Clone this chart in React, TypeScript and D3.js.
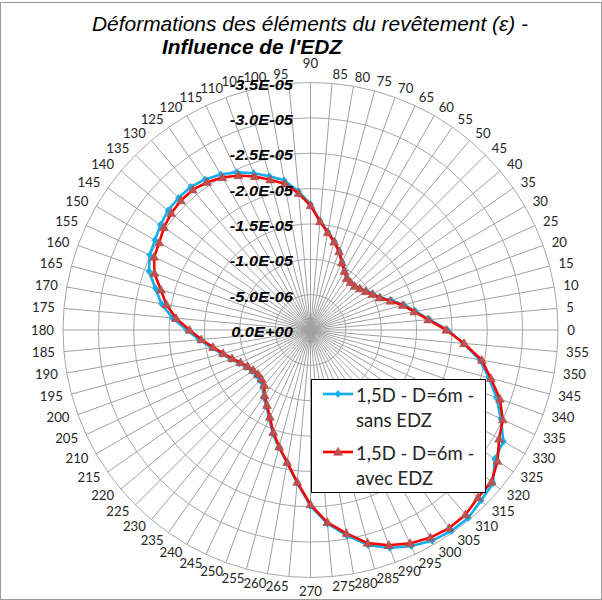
import React from 'react';
import * as d3 from 'd3';

// Categories (angle in degrees, as labelled on the chart)
const categories = [
  '0','5','10','15','20','25','30','35','40','45','50','55','60','65','70','75','80','85',
  '90','95','100','105','110','115','120','125','130','135','140','145','150','155','160','165','170','175',
  '180','185','190','195','200','205','210','215','220','225','230','235','240','245','250','255','260','265',
  '270','275','280','285','290','295','300','305','310','315','320','325','330','335','340','345','350','355'
];

// Series: 1,5D - D=6m - sans EDZ (strain, x1e-5, negative)
const sansEDZ = [
  -1.94, -1.69, -1.51, -1.37, -1.22, -1.09, -1.02, -0.96, -0.91, -0.88, -0.88, -0.90, -0.97, -1.06, -1.19, -1.30, -1.41, -1.55,
  -1.78, -1.97, -2.15, -2.25, -2.36, -2.46, -2.54, -2.60, -2.64, -2.64, -2.63, -2.59, -2.54, -2.51, -2.43, -2.27, -2.14, -1.96,
  -1.75, -1.58, -1.42, -1.30, -1.20, -1.11, -1.05, -1.01, -1.00, -1.01, -1.05, -1.16, -1.25, -1.38, -1.56, -1.72, -1.91, -2.17,
  -2.49, -2.75, -2.95, -3.15, -3.28, -3.37, -3.44, -3.47, -3.47, -3.41, -3.37, -3.18, -3.15, -2.97, -2.80, -2.61, -2.43, -2.17
].map(v => v * 1e-5);

// Series: 1,5D - D=6m - avec EDZ
const avecEDZ = [
  -1.92, -1.67, -1.49, -1.35, -1.20, -1.08, -1.01, -0.95, -0.91, -0.88, -0.88, -0.89, -0.96, -1.05, -1.18, -1.29, -1.40, -1.54,
  -1.76, -1.94, -2.10, -2.20, -2.31, -2.41, -2.49, -2.55, -2.59, -2.59, -2.57, -2.53, -2.47, -2.44, -2.35, -2.19, -2.07, -1.91,
  -1.71, -1.55, -1.40, -1.28, -1.18, -1.09, -1.03, -0.99, -0.97, -0.98, -1.02, -1.13, -1.23, -1.36, -1.54, -1.71, -1.90, -2.16,
  -2.47, -2.73, -2.92, -3.12, -3.24, -3.33, -3.39, -3.42, -3.41, -3.35, -3.34, -3.23, -3.08, -3.00, -2.85, -2.64, -2.46, -2.18
].map(v => v * 1e-5);

const radialTicks = [0, -5e-6, -1e-5, -1.5e-5, -2e-5, -2.5e-5, -3e-5, -3.5e-5];
const tickLabels = ['0.0E+00', '-5.0E-06', '-1.0E-05', '-1.5E-05', '-2.0E-05', '-2.5E-05', '-3.0E-05', '-3.5E-05'];

const seriesNames = ['1,5D - D=6m -', 'sans EDZ', '1,5D - D=6m -', 'avec EDZ'];
const titleLines = ['Déformations des éléments du revêtement (ε) -', "Influence de l'EDZ"];

const BLUE = '#12AEEA';
const RED = '#FF0000';
const TRI = '#C0504D';

export default function App() {
  const W = 602, H = 600;
  const cx = 310.5, cy = 330, R = 247.5;
  const rScale = d3.scaleLinear().domain([0, -3.5e-5]).range([0, R]);
  const aScale = d3.scaleLinear().domain([0, 360]).range([0, 2 * Math.PI]);
  const pt = (deg: number, v: number): [number, number] => {
    const a = aScale(deg);
    const r = rScale(v);
    return [cx + r * Math.cos(a), cy - r * Math.sin(a)];
  };
  const closed = d3.line<[number, number]>().curve(d3.curveLinearClosed);

  const bluePts = categories.map((c, i) => pt(+c, sansEDZ[i]));
  const redPts = categories.map((c, i) => pt(+c, avecEDZ[i]));

  const diamond = 'M0,-3.6L3,0L0,3.6L-3,0Z';
  const triangle = 'M0,-4.6L4.4,3.2L-4.4,3.2Z';

  const labelFont = "Lato, 'Noto Sans', sans-serif";
  const arial = "'Liberation Sans', Arial, sans-serif";

  return (
    <div style={{ position: 'fixed', left: 0, top: 0, width: W, height: H, background: '#fff' }}>
      <svg width={W} height={H} style={{ display: 'block' }}>
        <rect x={0.5} y={2.5} width={W - 1} height={H - 3} fill="#fff" stroke="#9a9a9a" strokeWidth={1} />
        {/* title */}
        <text x={310} y={31} textAnchor="middle" fontFamily={arial} fontStyle="italic" fontSize={19.5}
          textLength={436} lengthAdjust="spacingAndGlyphs" fill="#000">{titleLines[0]}</text>
        <text x={252} y={54} textAnchor="middle" fontFamily={arial} fontStyle="italic" fontWeight="bold" fontSize={19.5}
          textLength={180} lengthAdjust="spacingAndGlyphs" fill="#000">{titleLines[1]}</text>

        {/* grid polygons */}
        {radialTicks.slice(1).map((t, i) => (
          <path key={'g' + i} d={closed(categories.map(c => pt(+c, t))) || ''} fill="none" stroke="#a8a8a8" strokeWidth={1} />
        ))}
        {/* spokes */}
        {categories.map((c, i) => {
          const [x, y] = pt(+c, radialTicks[radialTicks.length - 1]);
          return <line key={'s' + i} x1={cx} y1={cy} x2={x} y2={y} stroke="#a0a0a0" strokeWidth={1} />;
        })}

        {/* category labels */}
        {categories.map((c, i) => {
          const a = aScale(+c);
          const cs = Math.cos(a), sn = Math.sin(a);
          const w = c.length * 7.3;
          const g = 9.5;
          let dx = (R + g) * cs + Math.sign(cs) * (w / 2) * Math.min(1, Math.abs(cs) * 12);
          let dy = -(R + g) * sn;
          if (Math.abs(cs) < 0.01) dy += sn > 0 ? -10 : 4;
          return (
            <text key={'c' + i} x={cx + dx} y={cy + dy + 4.6} textAnchor="middle" fontFamily={labelFont}
              fontSize={13.2} fill="#262626">{c}</text>
          );
        })}

        {/* series sans EDZ */}
        <path d={closed(bluePts) || ''} fill="none" stroke={BLUE} strokeWidth={2.6} strokeLinejoin="round" />
        {bluePts.map((p, i) => (
          <path key={'b' + i} d={diamond} transform={`translate(${p[0]},${p[1]})`} fill={BLUE} stroke={BLUE} strokeWidth={0.6} />
        ))}
        {/* series avec EDZ */}
        <path d={closed(redPts) || ''} fill="none" stroke={RED} strokeWidth={2.6} strokeLinejoin="round" />
        {redPts.map((p, i) => (
          <path key={'r' + i} d={triangle} transform={`translate(${p[0]},${p[1]})`} fill={TRI} stroke="#B04543" strokeWidth={0.6} />
        ))}

        {/* radial axis labels */}
        {radialTicks.map((t, i) => {
          const y = cy - rScale(t);
          return (
            <text key={'t' + i} transform={`translate(293,${y + 7}) scale(1.1,1)`} textAnchor="end" fontFamily={arial}
              fontStyle="italic" fontWeight="bold" fontSize={15} fill="#000">{tickLabels[i]}</text>
          );
        })}

        {/* legend */}
        <rect x={311.5} y={379.5} width={174} height={113} fill="#fff" stroke="#000" strokeWidth={1} />
        <line x1={323} x2={353} y1={394} y2={394} stroke={BLUE} strokeWidth={2.6} />
        <path d={diamond} transform="translate(338,394)" fill={BLUE} stroke={BLUE} strokeWidth={0.6} />
        <line x1={323} x2={353} y1={452} y2={452} stroke={RED} strokeWidth={2.6} />
        <path d={triangle} transform="translate(338,452)" fill={TRI} stroke="#B04543" strokeWidth={0.6} />
        <text x={356} y={401.5} fontFamily={labelFont} fontSize={18.5} fill="#262626">{seriesNames[0]}</text>
        <text x={356} y={426.5} fontFamily={labelFont} fontSize={18.5} fill="#262626">{seriesNames[1]}</text>
        <text x={356} y={459.5} fontFamily={labelFont} fontSize={18.5} fill="#262626">{seriesNames[2]}</text>
        <text x={356} y={484.5} fontFamily={labelFont} fontSize={18.5} fill="#262626">{seriesNames[3]}</text>
      </svg>
    </div>
  );
}
